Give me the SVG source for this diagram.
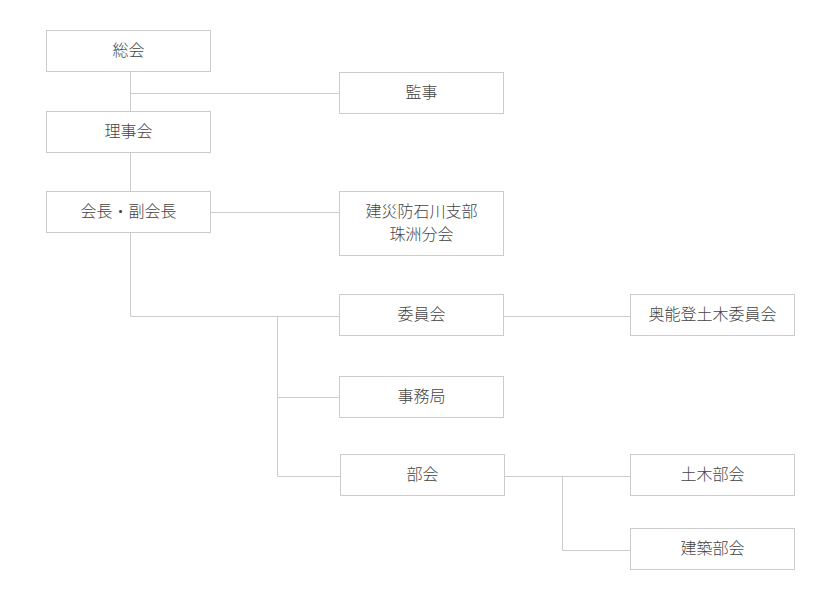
<svg xmlns="http://www.w3.org/2000/svg" width="840" height="600" viewBox="0 0 840 600">
<style>
.box{fill:#fff;stroke:#cccccc;stroke-width:1}
.lbl{font-family:"Noto Sans CJK JP","Noto Sans CJK SC",sans-serif;font-size:16px;font-weight:300;fill:#444;text-anchor:middle;dominant-baseline:central}
.ln{fill:none;stroke:#cccccc;stroke-width:1}
</style>
<rect width="840" height="600" fill="#fff"/>
<g id="connectors">
<path class="ln" d="M130.5 71 V111"/>
<path class="ln" d="M130.5 93.5 H339.5"/>
<path class="ln" d="M130.5 152 V191"/>
<path class="ln" d="M211 212.5 H339.5"/>
<path class="ln" d="M130.5 232 V316.5 H339.5"/>
<path class="ln" d="M277.5 316.5 V476.5 H340.5"/>
<path class="ln" d="M277.5 397.5 H339.5"/>
<path class="ln" d="M503.5 316.5 H630.5"/>
<path class="ln" d="M504.5 476.5 H630.5"/>
<path class="ln" d="M562.5 476.5 V550.5 H630.5"/>
</g>
<g id="n-soukai"><rect class="box" x="46.5" y="30.5" width="164" height="41"/><text class="lbl" x="128.5" y="49">総会</text></g>
<g id="n-kanji"><rect class="box" x="339.5" y="72.5" width="164" height="41"/><text class="lbl" x="421.5" y="91">監事</text></g>
<g id="n-rijikai"><rect class="box" x="46.5" y="111.5" width="164" height="41"/><text class="lbl" x="128.5" y="130">理事会</text></g>
<g id="n-kaicho"><rect class="box" x="46.5" y="191.5" width="164" height="41"/><text class="lbl" x="128.5" y="210">会長・副会長</text></g>
<g id="n-kensaibou"><rect class="box" x="339.5" y="191.5" width="164" height="64"/><text class="lbl" x="421.5" y="209.5">建災防石川支部</text><text class="lbl" x="421.5" y="233">珠洲分会</text></g>
<g id="n-iinkai"><rect class="box" x="339.5" y="294.5" width="164" height="41"/><text class="lbl" x="421.5" y="313">委員会</text></g>
<g id="n-okunoto"><rect class="box" x="630.5" y="294.5" width="164" height="41"/><text class="lbl" x="712.5" y="313">奥能登土木委員会</text></g>
<g id="n-jimukyoku"><rect class="box" x="339.5" y="376.5" width="164" height="41"/><text class="lbl" x="421.5" y="395">事務局</text></g>
<g id="n-bukai"><rect class="box" x="340.5" y="454.5" width="164" height="41"/><text class="lbl" x="422.5" y="473">部会</text></g>
<g id="n-doboku"><rect class="box" x="630.5" y="454.5" width="164" height="41"/><text class="lbl" x="712.5" y="473">土木部会</text></g>
<g id="n-kenchiku"><rect class="box" x="630.5" y="528.5" width="164" height="41"/><text class="lbl" x="712.5" y="547">建築部会</text></g>
</svg>
